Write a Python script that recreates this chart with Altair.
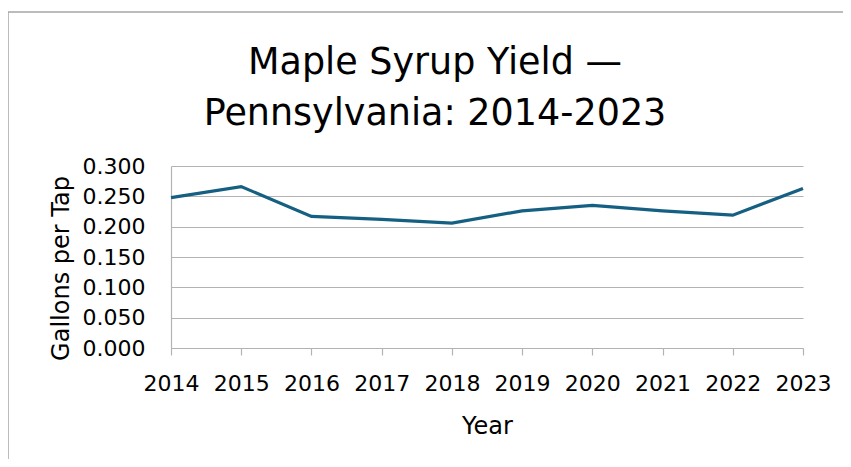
import altair as alt
import pandas as pd

years = ["2014", "2015", "2016", "2017", "2018", "2019", "2020", "2021", "2022", "2023"]
gallons_per_tap = [0.248, 0.266, 0.217, 0.212, 0.206, 0.226, 0.235, 0.226, 0.219, 0.263]
y_ticks = [0.0, 0.05, 0.10, 0.15, 0.20, 0.25, 0.30]
title_lines = ["Maple Syrup Yield —", "Pennsylvania: 2014-2023"]

FONT = "DejaVu Sans"
GRID = "#b3b3b3"

df = pd.DataFrame({"Year": years, "Gallons per Tap": gallons_per_tap})

line = alt.Chart(df).mark_line(color="#156082", strokeWidth=3.2).encode(
    x=alt.X(
        "Year:O",
        scale=alt.Scale(padding=0),
        axis=alt.Axis(
            title="Year", labelAngle=0, grid=False, ticks=True, tickSize=7,
            tickColor=GRID, domainColor=GRID, labelPadding=18, titlePadding=20,
        ),
    ),
    y=alt.Y(
        "Gallons per Tap:Q",
        scale=alt.Scale(domain=[0, 0.3], nice=False),
        axis=alt.Axis(
            title="Gallons per Tap", values=y_ticks, format=".3f", ticks=False,
            tickSize=0, labelPadding=26, domainColor=GRID, gridColor=GRID,
            titlePadding=9, titleY=102,
        ),
    ),
)

frame_df = pd.DataFrame({"k": [0]})
frame_top = alt.Chart(frame_df).mark_rule(color="#a6a6a6", strokeWidth=1.5).encode(
    x=alt.value(-163), x2=alt.value(760), y=alt.value(-154)
)
frame_left = alt.Chart(frame_df).mark_rule(color="#a6a6a6", strokeWidth=1.5).encode(
    x=alt.value(-163), y=alt.value(-154), y2=alt.value(320)
)

chart = alt.layer(line, frame_top, frame_left).properties(
    width=632,
    height=182,
    autosize=alt.AutoSizeParams(type="none"),
    padding={"left": 163, "top": 158, "right": 40, "bottom": 111},
    title=alt.TitleParams(
        text=title_lines, font=FONT, fontSize=36.5, fontWeight="normal",
        lineHeight=51, anchor="middle", frame="group", dx=-52,
        color="black", offset=-121,
    ),
).configure_axis(
    labelFont=FONT, titleFont=FONT, labelFontSize=22, titleFontSize=24,
    labelColor="black", titleColor="black", titleFontWeight="normal",
    gridWidth=1.2, domainWidth=1.2, tickWidth=1.2,
).configure_view(stroke=None)

chart.save("out.html", embed_options={"renderer": "svg", "actions": False})
